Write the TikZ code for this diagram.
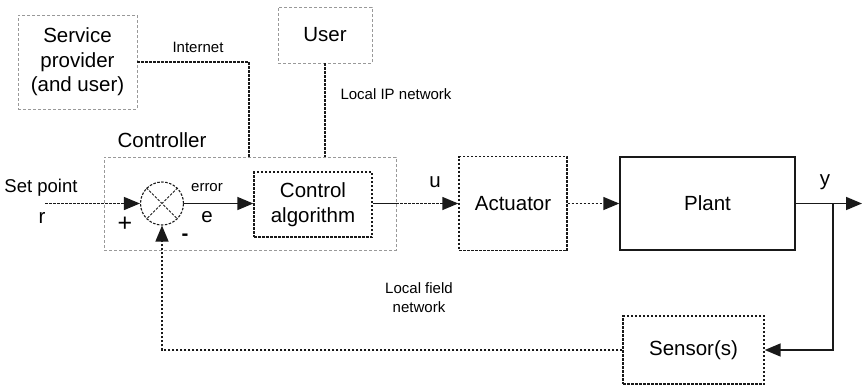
\documentclass[tikz,border=0pt]{standalone}
\usepackage{fontspec}
\setmainfont{Liberation Sans}
\usetikzlibrary{arrows.meta}

\begin{document}
\begin{tikzpicture}[x=1pt, y=-1pt,
  box/.style={rectangle, inner sep=0pt, align=center, font=\fontsize{20.5}{24.5}\selectfont},
  graybox/.style={box, draw=black!40, dash pattern=on 3pt off 2pt, line width=0.9pt},
  dotbox/.style={box, draw=black!90, dash pattern=on 2.5pt off 1.5pt, line width=1.4pt},
  solidbox/.style={box, draw=black!90, line width=1.4pt},
  link/.style={draw=black!90, line width=1.4pt, dash pattern=on 2.5pt off 1.5pt},
  wire/.style={draw=black!90, line width=1.6pt},
  tip/.style={-{Triangle[length=16pt,width=13pt]}},
  lbl/.style={inner sep=0pt, align=center, font=\fontsize{15}{19}\selectfont},
  big/.style={inner sep=0pt, font=\fontsize{20.5}{24}\selectfont}]
\useasboundingbox (0,0) rectangle (862,386);

% blocks
\node[graybox, minimum width=119pt, minimum height=94pt] (sp) at (77.5,62) {Service\\provider\\(and user)};
\node[graybox, minimum width=94pt, minimum height=56pt] (user) at (325,35) {User};
\node[graybox, minimum width=292pt, minimum height=93pt] (ctrl) at (250,203.5) {};
\node[dotbox, minimum width=118pt, minimum height=65pt] (alg) at (313,204.5) {Control\\algorithm};
\node[dotbox, minimum width=108pt, minimum height=94pt] (act) at (513,203.5) {Actuator};
\node[solidbox, minimum width=175pt, minimum height=93pt] (plant) at (707.5,203.5) {Plant};
\node[dotbox, minimum width=141pt, minimum height=68pt] (sens) at (693.5,350) {Sensor(s)};

% summing junction
\node[circle, draw=black!90, dash pattern=on 2.5pt off 1.5pt, line width=1.1pt,
      minimum size=43pt, inner sep=0pt] (sum) at (162,203.5) {};
\draw[draw=black!90, dash pattern=on 2.5pt off 1.5pt, line width=1pt]
  (sum.north east) -- (sum.south west) (sum.north west) -- (sum.south east);

% labels
\node[big] (ctrllbl) at (162,140) {Controller};
\node[big, font=\fontsize{18.5}{22}\selectfont] (spt) at (41,188) {Set point};
\node[big] (rl) at (42,218) {r};
\node[big, font=\fontsize{25}{28}\selectfont] (plus) at (125,224) {+};
\node[big, font=\bfseries\fontsize{20.5}{24}\selectfont] (minus) at (185,237) {-};
\node[lbl] (errl) at (207,188) {error};
\node[big] (el) at (207,217) {e};
\node[big] (ul) at (435,182) {u};
\node[big] (yl) at (825,182) {y};
\node[lbl] (inet) at (198,47) {Internet};
\node[lbl] (lip) at (396,94) {Local IP network};
\node[lbl] (lfn) at (419,297.5) {Local field\\network};

% network links
\draw[link] (sp.east |- 0,62) -| (ctrl.north -| 249,0);
\draw[link] (user.south) -- (user.south |- ctrl.north);

% signal path
\coordinate (rin) at (45,203.5);
\draw[link, tip] (rin) -- (sum.west);
\draw[wire, tip] (sum.east) -- (sum.east -| alg.west);
\coordinate (cout) at (ctrl.east |- 0,203.5);
\draw[wire] (cout -| alg.east) -- (cout);
\draw[link, tip] (cout) -- (act.west);
\draw[link, tip] (act.east) -- (plant.west);
\coordinate (yout) at (862,203.5);
\coordinate (br) at (833,203.5);
\draw[wire, tip] (plant.east) -- (yout);
\draw[wire, tip] (br) |- (sens.east);
\draw[link, tip] (sens.west) -| (sum.south);
\end{tikzpicture}
\end{document}
